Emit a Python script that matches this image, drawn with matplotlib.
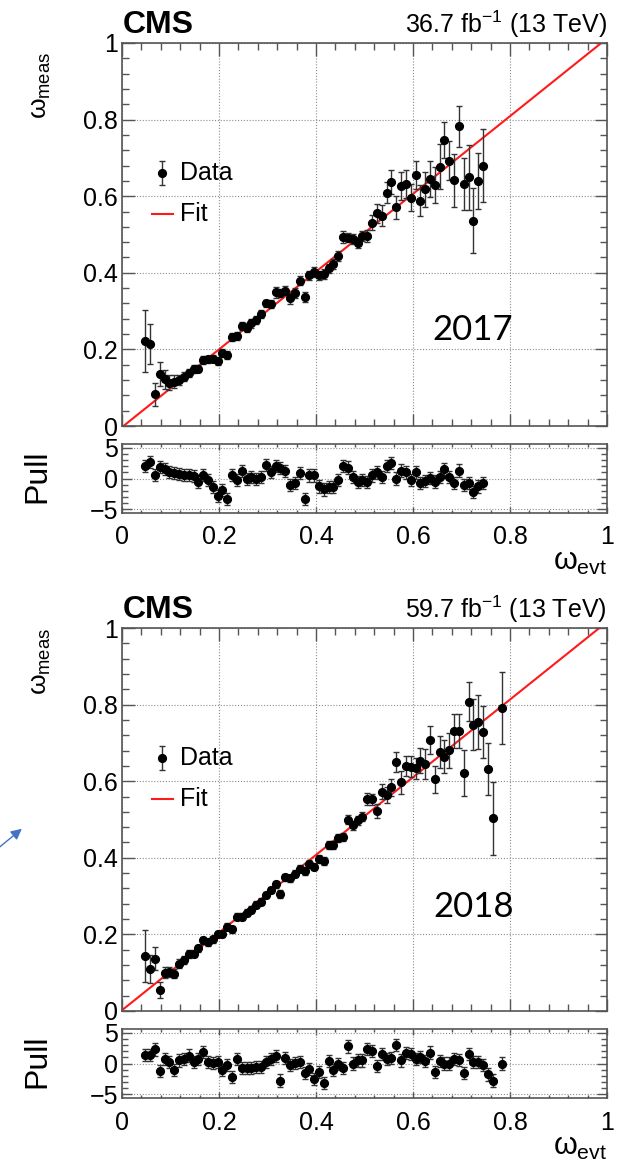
"""
Mistag-rate calibration: measured vs per-event omega, with fit and pull panels.
"""

import matplotlib.pyplot as plt
import numpy as np
from matplotlib.patches import FancyArrowPatch
from matplotlib.ticker import FuncFormatter, MultipleLocator


plt.rcParams["font.family"] = ["Liberation Sans", "DejaVu Sans"]
plt.rcParams["mathtext.fontset"] = "custom"
plt.rcParams["mathtext.rm"] = "Liberation Sans"
plt.rcParams["mathtext.it"] = "Liberation Sans"
plt.rcParams["mathtext.bf"] = "Liberation Sans:bold"

# bin index of each point (bin centre = 0.048 + 0.00995 * index)
bins_2017 = list(range(71))
bins_2018 = list(range(73)) + [74]

omega_meas_2017 = [
    0.222, 0.214, 0.083, 0.135, 0.122, 0.113, 0.116, 0.119, 0.129, 0.138,
    0.149, 0.150, 0.172, 0.174, 0.176, 0.169, 0.190, 0.185, 0.232, 0.235,
    0.261, 0.257, 0.268, 0.277, 0.292, 0.320, 0.319, 0.349, 0.347, 0.353,
    0.333, 0.348, 0.379, 0.336, 0.394, 0.403, 0.394, 0.397, 0.412, 0.423,
    0.444, 0.493, 0.492, 0.488, 0.479, 0.496, 0.496, 0.531, 0.555, 0.549,
    0.609, 0.638, 0.571, 0.627, 0.631, 0.596, 0.655, 0.588, 0.618, 0.645,
    0.629, 0.677, 0.747, 0.693, 0.642, 0.782, 0.632, 0.649, 0.536, 0.640,
    0.680,
]
omega_err_2017 = [
    0.080, 0.053, 0.030, 0.031, 0.025, 0.020, 0.016, 0.013, 0.012, 0.011,
    0.010, 0.010, 0.010, 0.010, 0.009, 0.010, 0.010, 0.010, 0.010, 0.010,
    0.011, 0.011, 0.011, 0.011, 0.011, 0.010, 0.011, 0.014, 0.011, 0.012,
    0.015, 0.013, 0.012, 0.013, 0.012, 0.013, 0.012, 0.012, 0.012, 0.013,
    0.014, 0.016, 0.012, 0.013, 0.013, 0.014, 0.016, 0.020, 0.025, 0.027,
    0.028, 0.031, 0.030, 0.037, 0.037, 0.035, 0.037, 0.040, 0.046, 0.048,
    0.047, 0.058, 0.048, 0.050, 0.069, 0.054, 0.069, 0.085, 0.085, 0.074,
    0.096,
]
pull_2017 = [
    2.1, 2.7, 0.6, 1.9, 1.5, 1.1, 0.9, 0.7, 0.6, 0.6,
    0.4, -0.5, 0.6, -0.2, -1.4, -2.9, -1.9, -3.3, 0.6, -0.2,
    1.2, -0.1, 0.2, -0.1, 0.3, 2.2, 1.1, 2.1, 1.7, 1.2,
    -1.0, -0.8, 0.9, -3.4, 0.5, 0.5, -1.3, -1.8, -1.4, -1.4,
    -0.3, 2.1, 1.8, 0.2, -0.6, -0.3, -0.6, 0.5, 1.0, 0.3,
    2.1, 2.5, 0.0, 1.3, 1.0, -0.2, 1.0, -0.8, -0.4, 0.1,
    -0.5, 0.3, 1.5, 0.2, -0.8, 1.3, -1.0, -0.8, -2.2, -1.3,
    -0.8,
]

omega_meas_2018 = [
    0.144, 0.110, 0.136, 0.055, 0.100, 0.101, 0.097, 0.124, 0.133, 0.148,
    0.150, 0.164, 0.185, 0.180, 0.187, 0.201, 0.201, 0.220, 0.213, 0.246,
    0.246, 0.257, 0.264, 0.277, 0.285, 0.303, 0.316, 0.331, 0.305, 0.349,
    0.346, 0.359, 0.372, 0.365, 0.384, 0.377, 0.397, 0.392, 0.433, 0.433,
    0.451, 0.455, 0.500, 0.485, 0.498, 0.507, 0.553, 0.553, 0.523, 0.573,
    0.564, 0.584, 0.650, 0.597, 0.640, 0.638, 0.634, 0.654, 0.645, 0.708,
    0.605, 0.677, 0.664, 0.681, 0.731, 0.731, 0.622, 0.808, 0.748, 0.755,
    0.729, 0.631, 0.503, 0.790,
]
omega_err_2018 = [
    0.067, 0.037, 0.030, 0.020, 0.015, 0.013, 0.012, 0.011, 0.010, 0.010,
    0.009, 0.009, 0.009, 0.009, 0.009, 0.009, 0.009, 0.009, 0.009, 0.009,
    0.009, 0.009, 0.009, 0.009, 0.009, 0.009, 0.009, 0.009, 0.010, 0.009,
    0.009, 0.009, 0.010, 0.010, 0.010, 0.010, 0.010, 0.010, 0.010, 0.011,
    0.011, 0.011, 0.011, 0.012, 0.012, 0.012, 0.016, 0.014, 0.018, 0.019,
    0.020, 0.022, 0.026, 0.030, 0.027, 0.027, 0.027, 0.033, 0.038, 0.037,
    0.035, 0.042, 0.043, 0.046, 0.045, 0.045, 0.060, 0.052, 0.066, 0.070,
    0.068, 0.068, 0.096, 0.094,
]
pull_2018 = [
    1.4, 1.4, 2.3, -1.2, 0.8, 0.3, -1.0, 0.5, 0.7, 1.3,
    0.3, 0.8, 1.9, 0.2, 0.1, 0.2, -1.1, -0.2, -2.2, 0.8,
    -0.7, -0.7, -0.8, -0.6, -0.6, 0.2, 0.7, 1.2, -2.8, 0.9,
    -0.2, 0.1, 0.3, -1.6, -0.9, -2.6, -1.4, -3.2, 0.4, -1.1,
    -0.1, -0.7, 2.8, 0.0, 0.5, 0.5, 2.4, 2.1, -0.4, 1.5,
    0.7, 0.9, 3.0, 0.5, 1.7, 1.5, 0.8, 1.1, 0.4, 1.8,
    -1.4, 0.4, 0.0, 0.0, 0.8, 0.6, -1.6, 1.6, 0.2, 0.2,
    -0.3, -1.8, -2.8, 0.0,
]

# linear fit: omega_meas = p0 + p1 * omega_evt
fit_2017 = (-0.003, 1.015)
fit_2018 = (0.002, 1.014)

FRAME = "#555555"
W, H = 619, 1168
MS = 5.6


def minus_fmt(v, pos):
    return f"{v:g}".replace("-", "\u2212")


def style_axes(ax, xlen, ylen):
    ax.set_xlim(0, 1)
    ax.xaxis.set_major_locator(MultipleLocator(0.2))
    ax.xaxis.set_minor_locator(MultipleLocator(0.04))
    ax.xaxis.set_major_formatter(FuncFormatter(minus_fmt))
    ax.yaxis.set_major_formatter(FuncFormatter(minus_fmt))
    ax.tick_params(which="both", direction="in", top=True, right=True,
                   color=FRAME, width=1.0, labelsize=18, labelcolor="black")
    ax.tick_params(axis="x", which="major", length=xlen[0])
    ax.tick_params(axis="x", which="minor", length=xlen[1])
    ax.tick_params(axis="y", which="major", length=ylen[0], pad=3)
    ax.tick_params(axis="y", which="minor", length=ylen[1])
    ax.grid(which="major", color="#8c8c8c", linestyle=(0, (1, 1.6)), linewidth=0.8)
    ax.set_axisbelow(True)
    for s in ax.spines.values():
        s.set_color(FRAME)
        s.set_linewidth(1.2)


def draw_points(ax, x, y, yerr):
    ax.errorbar(x, y, yerr=yerr, fmt="o", color="black", ms=MS,
                ecolor="#333333", elinewidth=1.0, capsize=2.3, capthick=1.0, zorder=3)


def draw_panel(fig, top_px, bins, meas, err, pull, fit, lumi, year, label_top):
    x = 0.048 + 0.00995 * np.array(bins)
    left, width = 122 / W, 485 / W
    main_h, pull_h = 383, 69
    ax = fig.add_axes([left, 1 - (top_px + main_h) / H, width, main_h / H])
    axp = fig.add_axes([left, 1 - (top_px + 401 + pull_h) / H, width, pull_h / H])

    style_axes(ax, (9, 5), (9, 5))
    ax.set_ylim(0, 1)
    ax.yaxis.set_major_locator(MultipleLocator(0.2))
    ax.yaxis.set_minor_locator(MultipleLocator(0.04))
    ax.tick_params(axis="x", labelbottom=False)

    xf = np.linspace(0, 1, 200)
    ax.plot(xf, fit[0] + fit[1] * xf, color="#ff1a1a", lw=1.5, zorder=2)
    draw_points(ax, x, meas, err)

    # legend
    draw_points(ax, [0.082], [0.66], [0.031])
    ax.text(0.12, 0.66, "Data", fontsize=18, va="center", ha="left")
    ax.plot([0.062, 0.105], [0.554, 0.554], color="#ff1a1a", lw=1.5)
    ax.text(0.12, 0.554, "Fit", fontsize=18, va="center", ha="left")

    ax.text(0.002, 1.026, "CMS", transform=ax.transAxes, fontsize=23,
            fontweight="bold", ha="left", va="baseline")
    ax.text(1.0, 1.026, lumi + r" fb$^{\mathregular{-1}}$ (13 TeV)",
            transform=ax.transAxes, fontsize=18, ha="right", va="baseline")
    ax.text(-0.142, label_top, r"$\omega_{\mathrm{meas}}$", transform=ax.transAxes,
            fontsize=19, rotation=90, ha="right", va="top")
    ax.text(0.724, year[1], year[0], fontsize=25, family="Lato",
            ha="center", va="center")

    style_axes(axp, (4, 2.5), (7, 4))
    axp.set_ylim(-5.65, 5.65)
    axp.yaxis.set_major_locator(MultipleLocator(5))
    axp.yaxis.set_minor_locator(MultipleLocator(1))
    axp.tick_params(axis="x", which="major", pad=9)
    draw_points(axp, x, pull, 1.0)
    axp.text(-0.175, 0.536, "Pull", transform=axp.transAxes, fontsize=23,
             rotation=90, ha="center", va="center")
    axp.text(1.0, -0.826, r"$\omega_{\mathrm{evt}}$", transform=axp.transAxes,
             fontsize=22, ha="right", va="baseline")
    return ax, axp


fig = plt.figure(figsize=(W / 100, H / 100), dpi=100)

draw_panel(fig, 43, bins_2017, omega_meas_2017, omega_err_2017, pull_2017,
           fit_2017, "36.7", ("2017", 0.25), 0.977)
draw_panel(fig, 628, bins_2018, omega_meas_2018, omega_err_2018, pull_2018,
           fit_2018, "59.7", ("2018", 0.272), 1.0)

# annotation arrow at the left edge
arrow = FancyArrowPatch((-4 / W, 1 - 850 / H), (24 / W, 1 - 827 / H),
                        transform=fig.transFigure, arrowstyle="-|>",
                        mutation_scale=16, color="#4472c4", lw=1.0)
fig.add_artist(arrow)

fig.savefig("out.png", dpi=100)
